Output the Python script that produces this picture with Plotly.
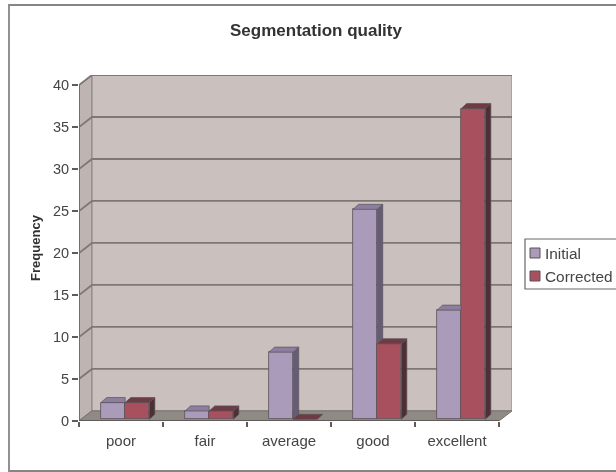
import plotly.graph_objects as go

categories = ["poor", "fair", "average", "good", "excellent"]
initial = [2, 1, 8, 25, 13]
corrected = [2, 1, 0, 9, 37]
y_ticks = [0, 5, 10, 15, 20, 25, 30, 35, 40]

FONT = "Liberation Sans"
TXT = "#454545"
WALL = "#CAC0BE"
SIDE_WALL = "#BEB4B2"
FLOOR = "#8F8B84"
GRID = "#7E7875"
FRONT = ["#A99BB9", "#A9505F"]
TOP = ["#8C7EA0", "#6E3B45"]
SIDE = ["#665C78", "#4E2F36"]
EDGE = "#5A5358"

# projection depth, in axis units
WDX, WDY = 0.155, 1.2    # chart walls
BDX, BDY = 0.066, 0.6    # bars
BW = 0.287               # bar width
SHIFT = 0.05             # group shift away from front plane
BASE = 0.2
XMIN, XMAX = -0.5, 4.5
YMAX = y_ticks[-1]
n = len(categories)
pos = list(range(n))
names = ["Initial", "Corrected"]
series = [initial, corrected]

# page geometry of the plot area, used to place the frame and legend in paper units
PL, PR, PT, PB = 79, 512, 75, 421


def px(v):
    return (v - PL) / (PR - PL)


def py(v):
    return (PB - v) / (PB - PT)


def poly(xs, ys, fill, line=None, width=0.7):
    return go.Scatter(x=xs + xs[:1], y=ys + ys[:1], mode="lines", fill="toself",
                      fillcolor=fill, line=dict(color=line or fill, width=width),
                      hoverinfo="skip", showlegend=False)


def path(pts):
    return "M" + " L".join(f"{a},{b}" for a, b in pts) + " Z"


shapes = [
    # chart frame
    dict(type="rect", xref="paper", yref="paper", x0=px(9), x1=px(625), y0=py(471), y1=py(5),
         line=dict(color="#8A8585", width=1.8), fillcolor="white", layer="below"),
    # side wall, back wall, floor
    dict(type="path", layer="below", fillcolor=SIDE_WALL, line=dict(color=GRID, width=1.2),
         path=path([(XMIN, 0), (XMIN + WDX, WDY), (XMIN + WDX, YMAX + WDY), (XMIN, YMAX)])),
    dict(type="rect", layer="below", fillcolor=WALL, line=dict(color="#96908E", width=1.2),
         x0=XMIN + WDX, x1=XMAX + WDX, y0=WDY, y1=YMAX + WDY),
    dict(type="path", layer="below", fillcolor=FLOOR, line=dict(color="#77736E", width=1),
         path=path([(XMIN, 0), (XMAX, 0), (XMAX + WDX, WDY), (XMIN + WDX, WDY)])),
]
for t in y_ticks[1:]:
    shapes.append(dict(type="path", layer="below", line=dict(color=GRID, width=1.8),
                       path=f"M{XMIN},{t} L{XMIN + WDX},{t + WDY} L{XMAX + WDX},{t + WDY}"))
shapes.append(dict(type="line", layer="below", x0=XMIN, x1=XMIN, y0=0, y1=YMAX,
                   line=dict(color="#6E6A6C", width=1.8)))
shapes.append(dict(type="line", layer="below", x0=XMIN, x1=XMAX, y0=0, y1=0,
                   line=dict(color="#5F5B5B", width=1.8)))

# legend box and swatches
shapes.append(dict(type="rect", xref="paper", yref="paper", x0=px(525), x1=px(625), y0=py(289), y1=py(239),
                   line=dict(color="#666666", width=1.2), fillcolor="white"))
annotations = []
for s, (top_px, name) in enumerate(zip([248, 271], names)):
    shapes.append(dict(type="rect", xref="paper", yref="paper", x0=px(530), x1=px(540),
                       y0=py(top_px + 10), y1=py(top_px),
                       line=dict(color=EDGE, width=1), fillcolor=FRONT[s]))
    annotations.append(dict(xref="paper", yref="paper", x=px(545), y=py(top_px + 5), text=name,
                            showarrow=False, xanchor="left", yanchor="middle", xshift=-2,
                            font=dict(size=15.4, color=TXT)))

fig = go.Figure()

# front faces
for s in range(2):
    fig.add_trace(go.Bar(
        x=[p + SHIFT + (s - 1) * BW + BW / 2 for p in pos], y=series[s], base=BASE, width=BW,
        name=names[s], showlegend=False,
        marker=dict(color=FRONT[s], line=dict(color=EDGE, width=0.8)),
    ))

# side and top faces
for i in pos:
    xm = i + SHIFT
    a, b = initial[i], corrected[i]
    # initial: only what rises above the neighbouring corrected bar is visible
    if a > b:
        lo = BASE + b
        hi = BASE + a
        fig.add_trace(poly([xm, xm + BDX, xm + BDX, xm], [lo, lo + BDY, hi + BDY, hi], SIDE[0], EDGE))
    top = BASE + a
    xr = xm if b >= a else xm + BDX
    if a > 0:
        fig.add_trace(poly([xm - BW, xm, xr, xm - BW + BDX], [top, top, top + BDY, top + BDY], TOP[0], EDGE))
    # corrected
    lo = BASE
    hi = BASE + b
    xe = xm + BW
    if b > 0:
        fig.add_trace(poly([xe, xe + BDX, xe + BDX, xe], [lo, lo + BDY, hi + BDY, hi], SIDE[1], EDGE))
    fig.add_trace(poly([xm, xe, xe + BDX, xm + BDX], [hi, hi, hi + BDY, hi + BDY], TOP[1], EDGE))

fig.update_layout(
    width=616, height=472, autosize=False, showlegend=False,
    margin=dict(l=PL, r=616 - PR, t=PT, b=472 - PB, autoexpand=False),
    paper_bgcolor="white", plot_bgcolor="rgba(0,0,0,0)",
    barmode="overlay", bargap=0, shapes=shapes, annotations=annotations,
    font=dict(family=FONT, color=TXT),
    title=dict(text="<b>Segmentation quality</b>", x=316 / 616, xanchor="center",
               y=1 - 30 / 472, yanchor="middle", font=dict(size=17, color="#333333")),
    xaxis=dict(range=[XMIN, XMAX + WDX], tickmode="array", tickvals=pos, ticktext=categories,
               showgrid=False, zeroline=False, showline=False, ticks="", ticklen=0,
               ticklabelstandoff=9, tickfont=dict(size=15, color=TXT),
               minor=dict(tickmode="array", tickvals=[p - 0.5 for p in pos] + [XMAX],
                          ticks="outside", ticklen=5, tickwidth=1.5, tickcolor="#5F5B5B",
                          showgrid=False)),
    yaxis=dict(range=[0, YMAX + WDY], tickmode="array", tickvals=y_ticks,
               showgrid=False, zeroline=False, showline=False, ticks="outside", ticklen=6,
               tickwidth=1.5, tickcolor="#5F5B5B", tickfont=dict(size=14.5, color=TXT),
               title=dict(text="<b>Frequency</b>", font=dict(size=13, color="#333333"), standoff=9)),
)

fig.write_html(
    "out.html",
    config={"displayModeBar": False},
    post_script="document.body.style.margin='0';document.documentElement.style.overflow='hidden';"
                "document.querySelector('.plotly-graph-div').style.filter='blur(0.6px)';",
)
